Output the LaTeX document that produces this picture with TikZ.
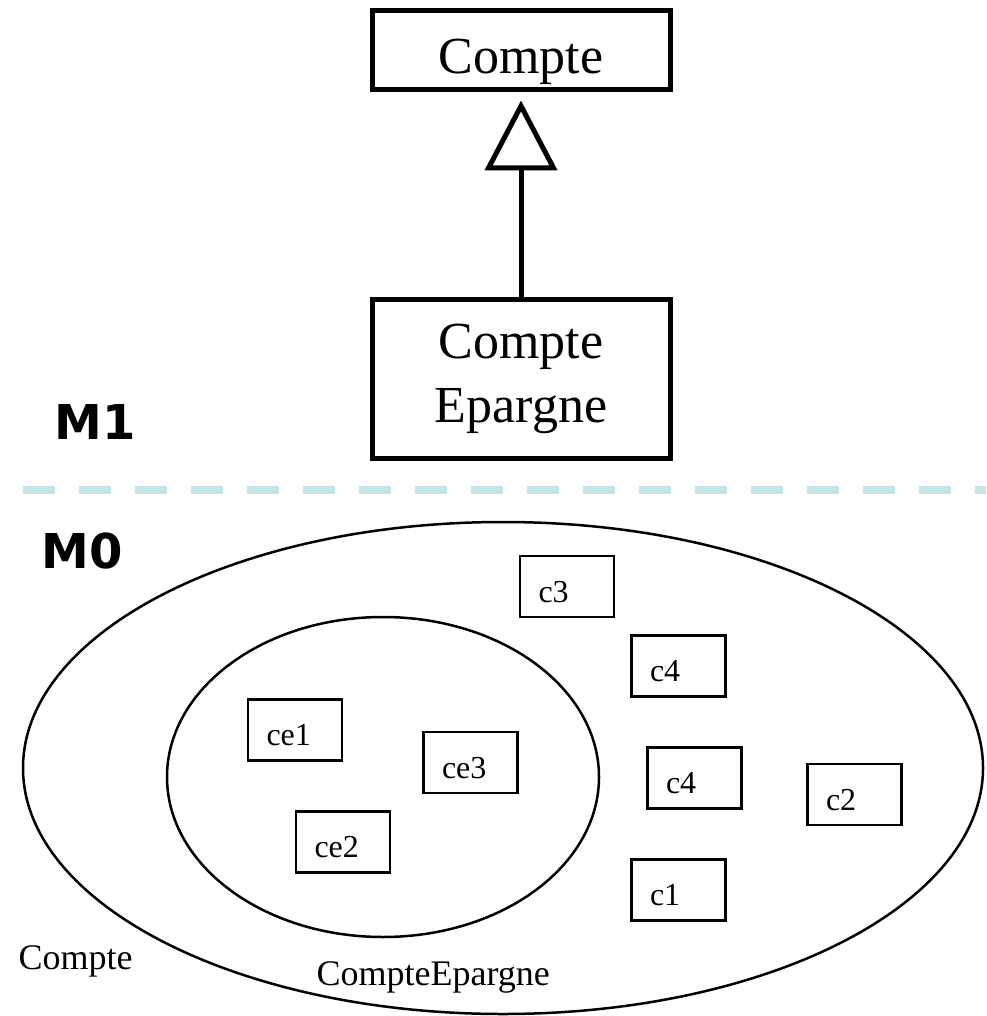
\documentclass[tikz,border=0pt]{standalone}
\usepackage{fontspec}
\setmainfont{Liberation Serif}
\newfontfamily\niveaufont{DejaVu Sans}
\usetikzlibrary{arrows.meta}
\definecolor{separation}{RGB}{197,228,230}

\tikzset{
  classe/.style={draw,line width=5pt,inner sep=0pt,minimum width=298pt,
    font=\fontsize{52}{64}\selectfont,align=center},
  objet/.style={draw,line width=2.5pt,inner ysep=0pt,inner xsep=18.5pt,
    text width=57pt,align=left,text height=31pt,text depth=0pt,
    minimum height=61pt,font=\fontsize{32}{38}\selectfont},
  niveau/.style={font=\niveaufont\bfseries\fontsize{48}{48}\selectfont},
  ensemble/.style={font=\fontsize{36}{42}\selectfont,anchor=base west},
}

\begin{document}
\begin{tikzpicture}[x=1pt,y=-1pt,>={Triangle[open,length=70pt,width=72pt]}]
  \useasboundingbox (0,0) rectangle (986,1016);
  % niveau M1 : les classes
  \node[classe,minimum height=79pt,text height=58pt,text depth=11pt] (compte) at (521,50.5) {Compte};
  \node[classe,minimum height=159pt] (epargne) at (521,378.5) {Compte\\Epargne};
  \draw[->,line width=5pt,shorten >=8pt] (epargne.north) -- (compte.south);
  \node[niveau] (m1) at (95,422) {M1};
  \draw[separation,line width=8pt,dash pattern=on 32pt off 24pt] (23,490) -- (986,490);
  % niveau M0 : les instances
  \node[niveau] (m0) at (82,551) {M0};
  \draw[line width=2.5pt] (503,768) ellipse [x radius=480pt,y radius=246pt];
  \draw[line width=2.5pt] (383,777) ellipse [x radius=216pt,y radius=160pt];
  \foreach \nom/\x/\y/\lab in {c3/567/586.5/c3,c4a/678.5/666/c4,c4b/694.5/778/c4,
      c2/854.5/794.5/c2,c1/678.5/890/c1}{
    \node[objet] (\nom) at (\x,\y) {\lab};
  }
  \foreach \nom/\x/\y in {ce1/295/730,ce3/470.5/762.5,ce2/343/842}{
    \node[objet] (\nom) at (\x,\y) {\nom};
  }
  \node[ensemble] (lcompte) at (15,969) {Compte};
  \node[ensemble] (lepargne) at (313,985) {CompteEpargne};
\end{tikzpicture}
\end{document}
